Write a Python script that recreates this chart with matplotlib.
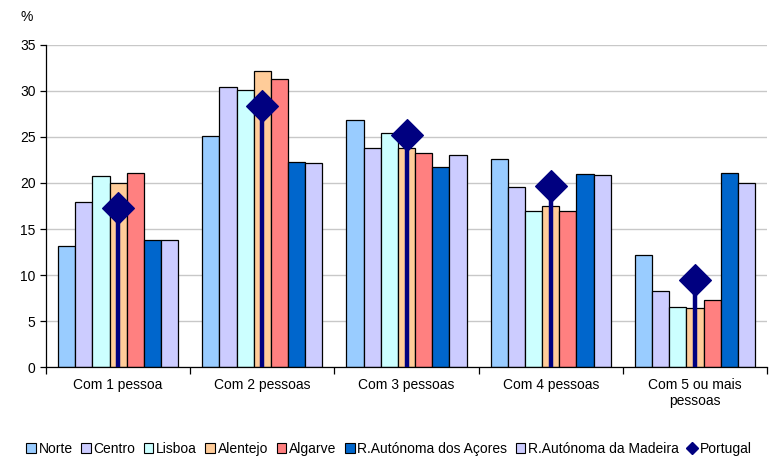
import numpy as np
import matplotlib
matplotlib.use("Agg")
import matplotlib.pyplot as plt
from matplotlib.patches import Patch
from matplotlib.lines import Line2D

plt.rcParams['font.family'] = ['Liberation Sans', 'DejaVu Sans']

categories = ["Com 1 pessoa", "Com 2 pessoas", "Com 3 pessoas", "Com 4 pessoas", "Com 5 ou mais\npessoas"]
regions = ["Norte", "Centro", "Lisboa", "Alentejo", "Algarve",
           "R.Autónoma dos Açores", "R.Autónoma da Madeira"]
colors = ["#99CCFF", "#CCCCFF", "#CCFFFF", "#FFCC99", "#FF8080", "#0066CC", "#CCCCFF"]

norte = [13.2, 25.1, 26.9, 22.6, 12.2]
centro = [17.9, 30.4, 23.8, 19.6, 8.3]
lisboa = [20.8, 30.1, 25.4, 17.0, 6.55]
alentejo = [20.0, 32.2, 23.85, 17.5, 6.4]
algarve = [21.05, 31.3, 23.3, 17.0, 7.25]
acores = [13.8, 22.3, 21.7, 21.0, 21.1]
madeira = [13.8, 22.2, 23.0, 20.9, 20.0]
portugal = [17.25, 28.4, 25.2, 19.7, 9.45]

series = [norte, centro, lisboa, alentejo, algarve, acores, madeira]

fig = plt.figure(figsize=(7.78, 4.59), dpi=100)
ax = fig.add_axes([0.0591, 0.2004, 0.9268, 0.7016])

x = np.arange(len(categories))
n = len(series)
group = 0.833
w = group / n
for i, (vals, c) in enumerate(zip(series, colors)):
    pos = x - group / 2 + w * (i + 0.5)
    ax.bar(pos, vals, width=w, color=c, edgecolor="black", linewidth=0.9, zorder=2)

# Portugal: diamond with drop line at the Alentejo position
ppos = x - group / 2 + w * 3.5
ax.vlines(ppos, 0, portugal, color="#000080", linewidth=3.2, zorder=3)
ax.scatter(ppos, portugal, marker="D", s=260, color="#000080", zorder=4)

ax.set_xlim(-0.5, len(categories) - 0.5)
ax.set_ylim(0, 35)
ax.set_yticks(np.arange(0, 36, 5))
ax.set_xticks(x)
ax.set_xticklabels(categories, fontsize=10)
ax.set_xticks(np.arange(-0.5, len(categories)), minor=True)
ax.tick_params(axis="x", which="major", length=0, pad=8)
ax.tick_params(axis="x", which="minor", length=5, width=0.9)
ax.tick_params(axis="y", length=4, width=0.9, labelsize=10)
ax.grid(axis="y", color="#C8C8C8", linewidth=1, zorder=0)
ax.set_axisbelow(True)
for s in ["top", "right"]:
    ax.spines[s].set_visible(False)
ax.spines["left"].set_linewidth(0.9)
ax.spines["bottom"].set_linewidth(0.9)

fig.text(0.026, 0.963, "%", fontsize=10, ha="left", va="center")

handles = [Patch(facecolor=c, edgecolor="black", linewidth=0.8) for c in colors]
handles.append(Line2D([], [], marker="D", color="#000080", linestyle="none", markersize=6))
fig.legend(handles, regions + ["Portugal"], loc="center", bbox_to_anchor=(0.5, 0.022),
           ncol=8, frameon=False, fontsize=10, handlelength=0.7, handleheight=0.7,
           handletextpad=0.2, columnspacing=0.6, borderpad=0)

fig.savefig("out.png", dpi=100)
